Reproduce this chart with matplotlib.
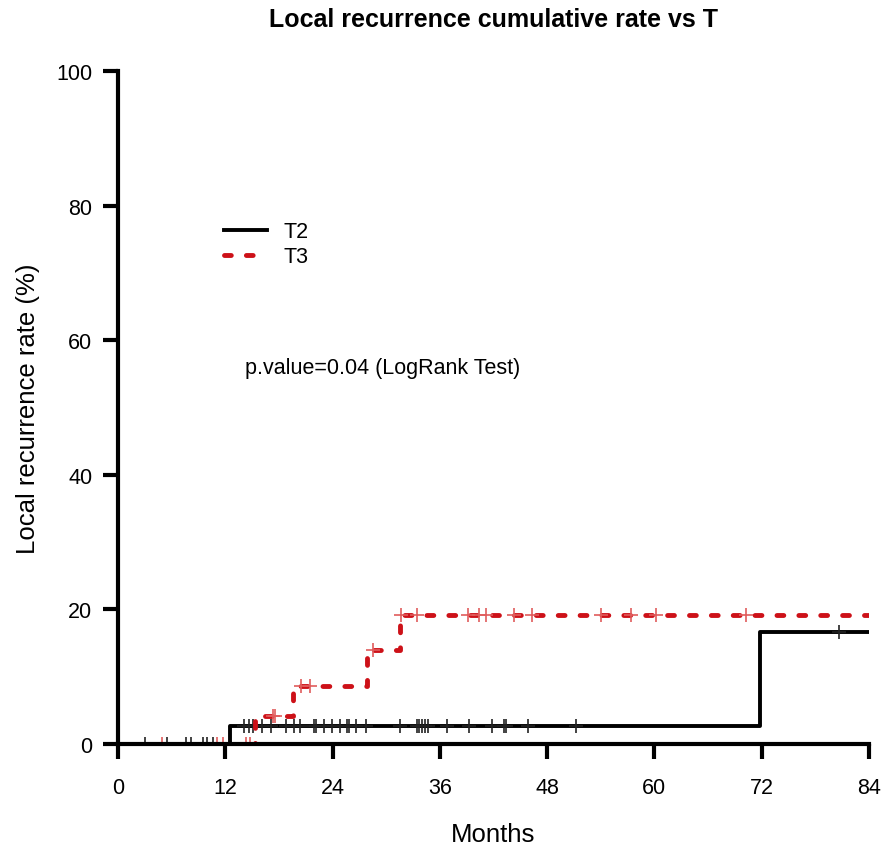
import numpy as np
import matplotlib.pyplot as plt

plt.rcParams['font.family'] = ['Liberation Sans', 'DejaVu Sans']

# event times (months) and cumulative local recurrence (%) after each event
t2_times = [12.5, 71.8]
t2_rates = [2.7, 16.6]
t3_times = [15.3, 19.6, 27.9, 31.5]
t3_rates = [4.1, 8.6, 13.9, 19.2]

# censored follow-up times (months)
t2_cens = [3.0, 5.5, 7.6, 8.2, 9.5, 10.0, 10.6,
           14.1, 14.65, 15.1, 16.1, 17.1, 18.8, 19.7, 20.4, 21.9, 22.2,
           23.0, 23.9, 24.8, 25.6, 25.8, 26.6, 27.7, 31.5, 33.4, 33.7,
           34.0, 34.3, 34.7, 36.8, 39.3, 41.8, 43.2, 43.4, 45.9, 51.2,
           80.6]
t3_cens = [4.9, 11.1, 11.7, 14.3, 14.8, 17.3, 17.6, 20.5, 21.5, 28.5,
           31.7, 33.4, 39.1, 40.4, 41.2, 44.3, 46.3, 54.0, 57.4, 60.2,
           70.2]

x_max = 84
x_ticks = [0, 12, 24, 36, 48, 60, 72, 84]
y_ticks = [0, 20, 40, 60, 80, 100]

red = '#cd1118'


def step_xy(times, rates):
    xs = np.r_[0, times, x_max]
    ys = np.r_[0, rates, rates[-1]]
    return xs, ys


def level_at(times, rates, t):
    idx = np.searchsorted(times, t, side='right')
    return np.r_[0, rates][idx]


fig = plt.figure(figsize=(8.85, 8.53), dpi=100)
ax = fig.add_axes([0.1333, 0.1266, 0.8486, 0.789])

x2, y2 = step_xy(t2_times, t2_rates)
x3, y3 = step_xy(t3_times, t3_rates)

ax.step(x2, y2, where='post', color='black', lw=2.8, label='T2', zorder=2)
ax.plot(t2_cens, level_at(t2_times, t2_rates, t2_cens), ls='none',
        marker='+', ms=10, mew=1.2, color='#222222', zorder=2)

line3, = ax.step(x3, y3, where='post', color=red, lw=3.5, label='T3', zorder=3)
line3.set_dashes((1.4, 3.1))
line3.set_dash_capstyle('round')
ax.plot(t3_cens, level_at(t3_times, t3_rates, t3_cens), ls='none',
        marker='+', ms=10, mew=1.2, color='#e05c5c', zorder=3)

ax.set_xlim(0, x_max)
ax.set_ylim(0, 100)
ax.set_xticks(x_ticks)
ax.set_yticks(y_ticks)
for side in ['top', 'right']:
    ax.spines[side].set_visible(False)
for side in ['left', 'bottom']:
    ax.spines[side].set_linewidth(3)
    ax.spines[side].set_zorder(4)
ax.tick_params(direction='out', length=10.5, width=3, labelsize=15.5)
ax.tick_params(axis='x', pad=13)
ax.tick_params(axis='y', pad=8)

ax.set_xlabel('Months', fontsize=18.5, va='center')
ax.xaxis.set_label_coords(0.5, -0.134)
ax.set_ylabel('Local recurrence rate (%)', fontsize=18.5, va='center')
ax.yaxis.set_label_coords(-0.12, 0.5)

ax.set_title('Local recurrence cumulative rate vs T', fontsize=18,
             fontweight='bold', y=1.077, pad=0, va='center')

leg = ax.legend(loc='upper left', bbox_to_anchor=(0.141, 0.777), frameon=False,
                fontsize=15.5, borderpad=0, borderaxespad=0, handlelength=2.0,
                handletextpad=0.75, labelspacing=0.2)

ax.text(14.2, 56.0, 'p.value=0.04 (LogRank Test)', fontsize=15.5,
        ha='left', va='center')

fig.savefig('out.png', dpi=100)
